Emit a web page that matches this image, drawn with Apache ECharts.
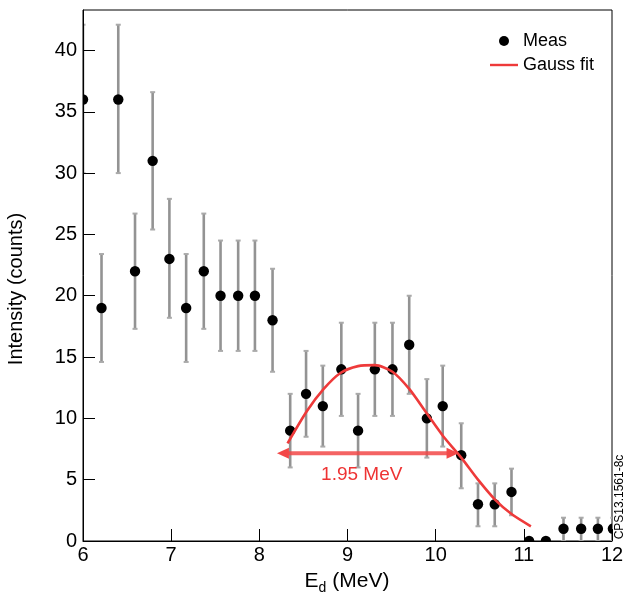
<!DOCTYPE html>
<html><head><meta charset="utf-8">
<script src="https://cdn.jsdelivr.net/npm/echarts@6/dist/echarts.min.js"></script>
<style>html,body{margin:0;padding:0;background:#fff}#c{width:624px;height:594px}</style>
</head><body><div id="c"></div>
<script>
// Measured points (deuteron energy in MeV, counts) and error bar ends
const energy  = [6.00, 6.21, 6.40, 6.59, 6.79, 6.98, 7.17, 7.37, 7.56, 7.76, 7.95, 8.15, 8.35, 8.53, 8.72, 8.93, 9.12, 9.31, 9.51, 9.70, 9.90, 10.08, 10.29, 10.48, 10.67, 10.86, 11.06, 11.25, 11.45, 11.65, 11.84, 12.01];
const counts  = [36, 19, 36, 22, 31, 23, 19, 22, 20, 20, 20, 18, 9, 12, 11, 14, 9, 14, 14, 16, 10, 11, 7, 3, 3, 4, 0, 0, 1, 1, 1, 1];
const errLow  = [30.0, 14.6, 30.0, 17.3, 25.4, 18.2, 14.6, 17.3, 15.5, 15.5, 15.5, 13.8, 6.0, 8.5, 7.7, 10.2, 6.0, 10.2, 10.2, 12.0, 6.8, 7.7, 4.3, 1.2, 1.2, 2.1, 0, 0, 0, 0, 0, 0];
const errHigh = [42.1, 23.4, 42.1, 26.7, 36.6, 27.9, 23.4, 26.7, 24.5, 24.5, 24.5, 22.2, 12.0, 15.5, 14.3, 17.8, 12.0, 17.8, 17.8, 20.0, 13.2, 14.3, 9.6, 4.7, 4.7, 5.9, 0, 0, 1.9, 1.9, 1.9, 1.9];

// Gauss fit curve
const fitEnergy = [8.32, 8.54, 8.73, 8.92, 9.12, 9.31, 9.51, 9.70, 9.90, 10.09, 10.29, 10.48, 10.67, 10.86, 11.08];
const fitCounts = [7.96, 10.6, 12.4, 13.7, 14.26, 14.34, 13.8, 12.4, 10.4, 8.5, 6.8, 5.0, 3.4, 2.2, 1.2];

// FWHM arrow: [start MeV, end MeV, level counts]
const fwhmArrow = [8.20, 10.26, 7.15];
const fwhmLabel = '1.95 MeV';

const xTickValues = [6, 7, 8, 9, 10, 11, 12];
const yTickValues = [0, 5, 10, 15, 20, 25, 30, 35, 40];

const FONT = 'Liberation Sans, Arial, sans-serif';
const chart = echarts.init(document.getElementById('c'));

const option = {
  backgroundColor: '#fff',
  animation: false,
  grid: { left: 83, right: 12, top: 10, bottom: 53, show: true, borderColor: '#000', borderWidth: 1, backgroundColor: 'transparent', outerBoundsMode: 'none', containLabel: false },
  xAxis: {
    type: 'value', min: xTickValues[0], max: xTickValues[xTickValues.length - 1], interval: 1,
    axisLine: { lineStyle: { color: '#000', width: 1 } },
    axisTick: { inside: true, length: 12, lineStyle: { color: '#000', width: 1 } },
    axisLabel: { color: '#000', fontSize: 20, fontFamily: FONT, margin: 4 },
    splitLine: { show: false }, z: 10
  },
  yAxis: {
    type: 'value', min: 0, max: 43.3, interval: 5,
    axisLine: { lineStyle: { color: '#000', width: 1 } },
    axisTick: { inside: true, length: 12, lineStyle: { color: '#000', width: 1 } },
    axisLabel: { color: '#000', fontSize: 20, fontFamily: FONT, margin: 6, showMaxLabel: false,
      formatter: v => (yTickValues.indexOf(v) >= 0 ? String(v) : '') },
    splitLine: { show: false }, z: 10
  },
  legend: {
    left: 485, top: 27, orient: 'vertical', itemWidth: 28, itemHeight: 10, itemGap: 6, z: 10,
    textStyle: { fontSize: 18, color: '#000', fontFamily: FONT },
    data: [ { name: 'Meas', icon: 'circle' }, { name: 'Gauss fit', icon: 'path://M0,0H28V2.4H0Z' } ]
  },
  series: [
    {
      name: 'Meas', type: 'custom', clip: true, z: 3,
      itemStyle: { color: '#000' },
      encode: { x: 0, y: 1 },
      data: energy.map((e, i) => [e, counts[i], errLow[i], errHigh[i]]),
      renderItem: function (params, api) {
        const x = api.value(0), y = api.value(1), lo = api.value(2), hi = api.value(3);
        const c = api.coord([x, y]);
        const children = [];
        if (hi > lo) {
          const a = api.coord([x, lo]), b = api.coord([x, hi]);
          children.push({ type: 'line', shape: { x1: a[0], y1: a[1], x2: b[0], y2: b[1] }, style: { stroke: '#939393', lineWidth: 2.6 } });
          children.push({ type: 'line', shape: { x1: a[0] - 2.5, y1: a[1], x2: a[0] + 2.5, y2: a[1] }, style: { stroke: '#aaa', lineWidth: 2 } });
          children.push({ type: 'line', shape: { x1: b[0] - 2.5, y1: b[1], x2: b[0] + 2.5, y2: b[1] }, style: { stroke: '#aaa', lineWidth: 2 } });
        }
        children.push({ type: 'circle', shape: { cx: c[0], cy: c[1], r: 5.2 }, style: { fill: '#000' } });
        return { type: 'group', children: children };
      }
    },
    {
      name: 'Gauss fit', type: 'line', z: 4, smooth: 0.25, showSymbol: false, symbol: 'none',
      lineStyle: { color: '#ee3a3a', width: 2.6 }, itemStyle: { color: '#ee3a3a' },
      data: fitEnergy.map((e, i) => [e, fitCounts[i]])
    },
    {
      name: 'fwhm', type: 'custom', z: 5,
      data: [fwhmArrow],
      encode: { x: [0, 1], y: 2 },
      renderItem: function (params, api) {
        const p1 = api.coord([api.value(0), api.value(2)]);
        const p2 = api.coord([api.value(1), api.value(2)]);
        const hl = 12, hh = 5.5, col = '#f24848';
        return { type: 'group', children: [
          { type: 'line', shape: { x1: p1[0] + hl - 1, y1: p1[1], x2: p2[0] - hl + 1, y2: p2[1] }, style: { stroke: col, lineWidth: 4, opacity: 0.85 } },
          { type: 'polygon', shape: { points: [[p1[0], p1[1]], [p1[0] + hl, p1[1] - hh], [p1[0] + hl, p1[1] + hh]] }, style: { fill: col } },
          { type: 'polygon', shape: { points: [[p2[0], p2[1]], [p2[0] - hl, p2[1] - hh], [p2[0] - hl, p2[1] + hh]] }, style: { fill: col } },
          { type: 'text', style: { text: fwhmLabel, x: (p1[0] + p2[0]) / 2 - 6, y: p1[1] + 21, align: 'center', verticalAlign: 'middle', fill: '#ee3333', fontSize: 19, fontFamily: FONT } }
        ] };
      }
    }
  ],
  graphic: [
    { type: 'text', z: 20, x: 16, y: 289, rotation: Math.PI / 2,
      style: { text: 'Intensity (counts)', fill: '#000', fontSize: 20, fontFamily: FONT, align: 'center', verticalAlign: 'middle' } },
    { type: 'text', z: 20, x: 347, y: 581,
      style: { text: '{a|E}{b|d}{a| (MeV)}', fill: '#000', align: 'center', verticalAlign: 'middle',
        rich: { a: { fontSize: 21, fontFamily: FONT, lineHeight: 28, verticalAlign: 'middle' },
                b: { fontSize: 14, fontFamily: FONT, lineHeight: 12, verticalAlign: 'bottom' } } } },
    { type: 'text', z: 20, x: 620, y: 497, rotation: Math.PI / 2,
      style: { text: 'CPS13.1561-8c', fill: '#000', fontSize: 12, fontFamily: FONT, align: 'center', verticalAlign: 'middle' } }
  ]
};
chart.setOption(option);
</script>
</body></html>
